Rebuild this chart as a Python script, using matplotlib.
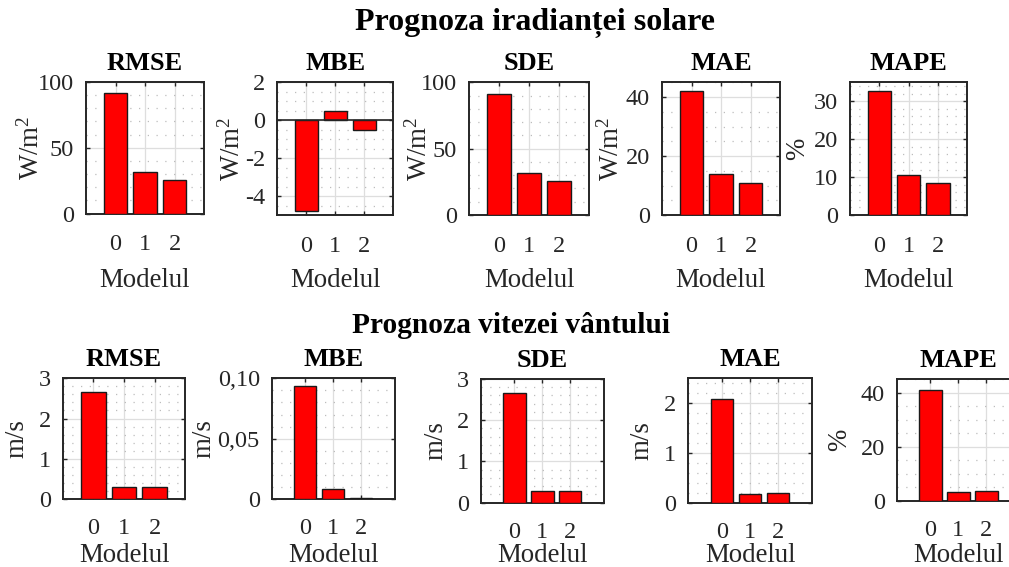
import matplotlib.pyplot as plt
from matplotlib.ticker import MultipleLocator, FixedLocator, FixedFormatter

plt.rcParams['font.family'] = ['Liberation Serif', 'DejaVu Serif']
plt.rcParams['mathtext.fontset'] = 'custom'
plt.rcParams['mathtext.rm'] = 'Liberation Serif'
plt.rcParams['mathtext.it'] = 'Liberation Serif:italic'
plt.rcParams['axes.unicode_minus'] = False

# error metrics for the three models (0, 1, 2)
models = [0, 1, 2]
metrics = ['RMSE', 'MBE', 'SDE', 'MAE', 'MAPE']

# solar irradiance forecast, W/m^2 (MAPE in %)
solar_rmse = [91.3, 31.2, 25.6]
solar_mbe = [-4.8, 0.47, -0.5]
solar_sde = [91.25, 31.5, 25.75]
solar_mae = [42.0, 13.8, 10.75]
solar_mape = [32.6, 10.6, 8.45]

# wind speed forecast, m/s (MAPE in %)
wind_rmse = [2.65, 0.31, 0.31]
wind_mbe = [0.094, 0.008, 0.0005]
wind_sde = [2.67, 0.29, 0.29]
wind_mae = [2.09, 0.175, 0.185]
wind_mape = [41.0, 3.4, 3.6]

solar_units = ['W/m$^2$', 'W/m$^2$', 'W/m$^2$', 'W/m$^2$', '%']
wind_units = ['m/s', 'm/s', 'm/s', 'm/s', '%']
wind_mbe_ticklabels = ['0', '0,05', '0,10']

W, H = 1009, 567
fig = plt.figure(figsize=(W / 100, H / 100), dpi=100)
DARK = '#262626'


def panel(box, xlim, values, ylim, yticks, minor, unit, ylab_dx, xlab_top,
          xpad, title, yticklabels=None, zero_line=False):
    # box given in pixels: left, top, right, bottom
    l, t, r, b = box
    w, h = r - l, b - t
    ax = fig.add_axes([l / W, 1 - b / H, w / W, h / H])
    ax.bar(models, values, width=0.8, color='#ff0000', edgecolor='#1a1a1a',
           linewidth=1.0, zorder=3)
    if zero_line:
        ax.axhline(0, color=DARK, lw=1.2, zorder=4)
    ax.set_xlim(xlim)
    ax.set_ylim(ylim)
    ax.set_xticks(models)
    ax.yaxis.set_major_locator(FixedLocator(yticks))
    if yticklabels is not None:
        ax.yaxis.set_major_formatter(FixedFormatter(yticklabels))
    ax.yaxis.set_minor_locator(MultipleLocator(minor))
    ax.set_axisbelow(True)
    ax.grid(which='major', color='#dedede', lw=0.9)
    ax.grid(which='minor', axis='y', color='#bdbdbd', lw=0.9,
            linestyle=(0, (1, 6)))
    ax.tick_params(which='both', direction='in', top=True, right=True,
                   labelsize=17.5, labelcolor=DARK, color=DARK, width=1.0)
    ax.tick_params(which='major', length=3)
    ax.tick_params(which='minor', length=0)
    ax.tick_params(axis='x', pad=xpad)
    ax.tick_params(axis='y', pad=8.6)
    for s in ax.spines.values():
        s.set_linewidth(1.4)
        s.set_color(DARK)
    ax.set_ylabel(unit, fontsize=19.4, color=DARK)
    ax.yaxis.set_label_coords(ylab_dx / w, 0.5)
    ax.set_xlabel('Modelul', fontsize=19.4, color=DARK)
    ax.xaxis.set_label_coords(0.5, -(xlab_top - b) / h)
    ax.text(0.5, 1 + 12 / h, title, transform=ax.transAxes, ha='center',
            va='baseline', fontsize=19, fontweight='bold', color='black')
    return ax


# top row: solar irradiance
top_boxes = [(86, 82, 204, 213.5), (277.3, 82.3, 393, 215),
             (469, 82.3, 589.3, 215), (662, 82.3, 780, 215),
             (850, 82.3, 967.3, 215)]
top_values = [solar_rmse, solar_mbe, solar_sde, solar_mae, solar_mape]
top_ylims = [(0, 100), (-5, 2), (0, 100), (0, 45), (0, 35)]
top_yticks = [[0, 50, 100], [-4, -2, 0, 2], [0, 50, 100], [0, 20, 40],
              [0, 10, 20, 30]]
top_minor = [10, 0.5, 10, 5, 2]
top_ylab_dx = [-41, -32, -36, -37, -40]

for i in range(5):
    panel(top_boxes[i], (-1, 3), top_values[i], top_ylims[i], top_yticks[i],
          top_minor[i], solar_units[i], top_ylab_dx[i], 268, 15,
          metrics[i], zero_line=(i == 1))

# bottom row: wind speed
bot_boxes = [(62.7, 378.3, 185.3, 499), (271.7, 378.3, 394.5, 499),
             (481, 379, 603.7, 502.7), (688, 378.3, 812, 502.7),
             (896.7, 379, 1020, 501)]
bot_values = [wind_rmse, wind_mbe, wind_sde, wind_mae, wind_mape]
bot_xlims = [(-1, 3), (-1.2, 3.2), (-1.2, 3.2), (-1.2, 3.2), (-1.2, 3.2)]
bot_ylims = [(0, 3), (0, 0.1), (0, 3), (0, 2.5), (0, 45)]
bot_yticks = [[0, 1, 2, 3], [0, 0.05, 0.1], [0, 1, 2, 3], [0, 1, 2],
              [0, 20, 40]]
bot_minor = [0.2, 0.01, 0.2, 0.2, 5]
bot_ylab_dx = [-33, -55, -33, -34, -45]

for i in range(5):
    panel(bot_boxes[i], bot_xlims[i], bot_values[i], bot_ylims[i],
          bot_yticks[i], bot_minor[i], wind_units[i], bot_ylab_dx[i], 542.5,
          13.7, metrics[i],
          yticklabels=wind_mbe_ticklabels if i == 1 else None)

fig.text(534.7 / W, 1 - 30 / H, 'Prognoza iradianței solare', ha='center',
         va='baseline', fontsize=23, fontweight='bold')
fig.text(511 / W, 1 - 333.3 / H, 'Prognoza vitezei vântului', ha='center',
         va='baseline', fontsize=21.2, fontweight='bold')

fig.savefig('out.png', dpi=100)
